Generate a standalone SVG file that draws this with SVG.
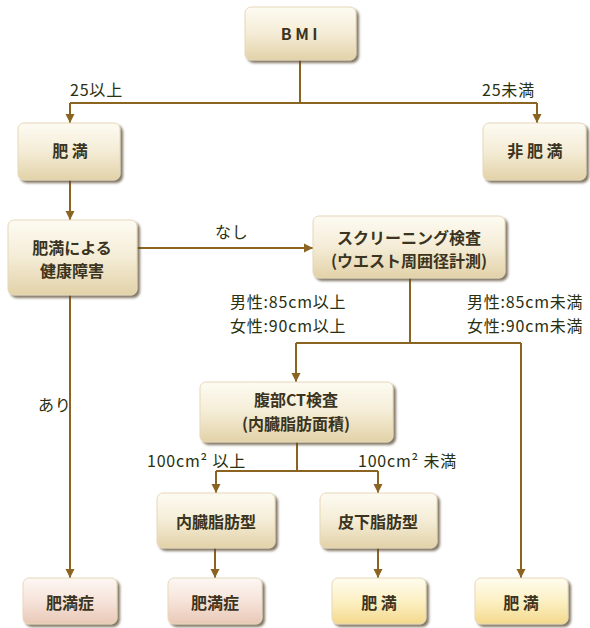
<svg xmlns="http://www.w3.org/2000/svg" width="590" height="628" viewBox="0 0 590 628">
<defs>
<linearGradient id="gBeige" x1="0" y1="0" x2="0" y2="1">
<stop offset="0" stop-color="#fdfbf2"/>
<stop offset="0.5" stop-color="#f4ecd6"/>
<stop offset="1" stop-color="#e2d2a8"/>
</linearGradient>
<linearGradient id="gPink" x1="0" y1="0" x2="0" y2="1">
<stop offset="0" stop-color="#fdf7f3"/>
<stop offset="0.5" stop-color="#f6e3da"/>
<stop offset="1" stop-color="#e9c8b6"/>
</linearGradient>
<linearGradient id="gYellow" x1="0" y1="0" x2="0" y2="1">
<stop offset="0" stop-color="#fffcef"/>
<stop offset="0.5" stop-color="#fcf0c4"/>
<stop offset="1" stop-color="#f3d98c"/>
</linearGradient>
<filter id="sh" x="-10%" y="-10%" width="130%" height="140%">
<feDropShadow dx="2.5" dy="2.5" stdDeviation="1" flood-color="#5a4a30" flood-opacity="0.75"/>
</filter>
<marker id="arr" markerUnits="userSpaceOnUse" markerWidth="10" markerHeight="10" viewBox="0 0 10 10" refX="9" refY="5" orient="auto">
<path d="M0,0.5 L9,5 L0,9.5 Z" fill="#8a6420"/>
</marker>
</defs>
<style>
.box{stroke:#e6d8b8;stroke-width:1;filter:url(#sh)}
.b{fill:url(#gBeige)}
.p{fill:url(#gPink)}
.y{fill:url(#gYellow)}
.t{font-family:"Noto Sans CJK JP","Noto Sans",sans-serif;font-weight:bold;font-size:16px;fill:#3b3420;text-anchor:middle}
.l{font-family:"Noto Sans CJK JP","Noto Sans",sans-serif;font-size:16px;letter-spacing:0.8px;fill:#28300f}
.c{fill:none;stroke:#8a6420;stroke-width:2}
.a{marker-end:url(#arr)}
</style>
<g id="connectors">
<path class="c" d="M300,60 V103 M70,103 H537"/>
<path class="c a" d="M70,103 V123"/>
<path class="c a" d="M537,103 V123"/>
<path class="c a" d="M70,180 V220"/>
<path class="c a" d="M137,248 H313"/>
<path class="c a" d="M70,295 V578"/>
<path class="c" d="M410,278 V343 M296,343 H521"/>
<path class="c a" d="M296,343 V382"/>
<path class="c a" d="M521,343 V578"/>
<path class="c" d="M297,442 V471 M216,471 H378"/>
<path class="c a" d="M216,471 V493"/>
<path class="c a" d="M378,471 V493"/>
<path class="c a" d="M215,548 V578"/>
<path class="c a" d="M378,548 V578"/>
</g>
<g id="labels">
<text class="l" x="70" y="96">25以上</text>
<text class="l" x="482" y="96">25未満</text>
<text class="l" x="215" y="238">なし</text>
<text class="l"><tspan x="230" y="308">男性:85cm以上</tspan><tspan x="230" y="332">女性:90cm以上</tspan></text>
<text class="l"><tspan x="467" y="308">男性:85cm未満</tspan><tspan x="467" y="332">女性:90cm未満</tspan></text>
<text class="l" x="38" y="411">あり</text>
<text class="l" x="147" y="467">100cm² 以上</text>
<text class="l" x="358" y="467">100cm² 未満</text>
</g>
<g id="n-bmi"><rect class="box b" x="245" y="7" width="111" height="53" rx="6"/><text class="t" x="301" y="40" font-size="17" letter-spacing="3.5">BMI</text></g>
<g id="n-himan1"><rect class="box b" x="18" y="123" width="102" height="57" rx="6"/><text class="t" x="70" y="157">肥 満</text></g>
<g id="n-hihiman"><rect class="box b" x="483" y="123" width="103" height="57" rx="6"/><text class="t" x="535" y="157">非 肥 満</text></g>
<g id="n-shogai"><rect class="box b" x="8" y="220" width="129" height="75" rx="6"/><text class="t"><tspan x="72" y="254">肥満による</tspan><tspan x="72" y="277">健康障害</tspan></text></g>
<g id="n-screen"><rect class="box b" x="313" y="216" width="192" height="62" rx="6"/><text class="t"><tspan x="409" y="244">スクリーニング検査</tspan><tspan x="409" y="267">(ウエスト周囲径計測)</tspan></text></g>
<g id="n-ct"><rect class="box b" x="200" y="382" width="193" height="60" rx="6"/><text class="t"><tspan x="296" y="406">腹部CT検査</tspan><tspan x="296" y="430">(内臓脂肪面積)</tspan></text></g>
<g id="n-naizo"><rect class="box b" x="157" y="493" width="118" height="55" rx="6"/><text class="t" x="216" y="528">内臓脂肪型</text></g>
<g id="n-hika"><rect class="box b" x="320" y="493" width="117" height="55" rx="6"/><text class="t" x="378" y="528">皮下脂肪型</text></g>
<g id="n-sho1"><rect class="box p" x="23" y="578" width="94" height="46" rx="6"/><text class="t" x="70" y="609">肥満症</text></g>
<g id="n-sho2"><rect class="box p" x="168" y="578" width="94" height="46" rx="6"/><text class="t" x="215" y="609">肥満症</text></g>
<g id="n-himan2"><rect class="box y" x="332" y="578" width="94" height="46" rx="6"/><text class="t" x="379" y="609">肥 満</text></g>
<g id="n-himan3"><rect class="box y" x="475" y="578" width="93" height="46" rx="6"/><text class="t" x="521" y="609">肥 満</text></g>
</svg>
